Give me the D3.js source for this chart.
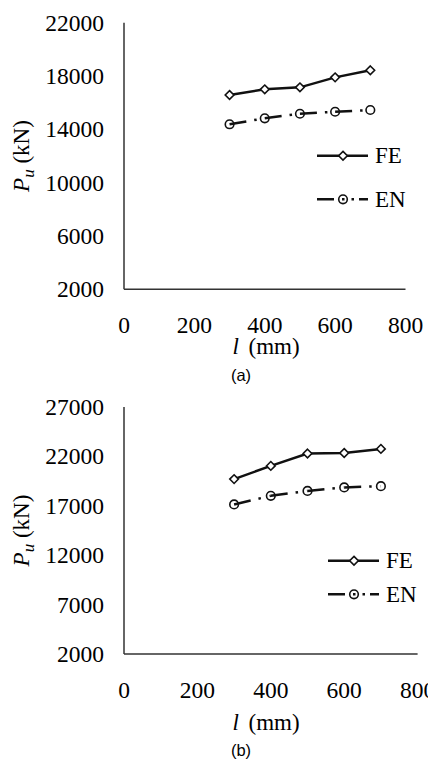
<!DOCTYPE html>
<html>
<head>
<meta charset="utf-8">
<script src="https://cdn.jsdelivr.net/npm/d3@7"></script>
<style>
  body { margin: 0; background: #fff; }
  svg text { font-family: "Liberation Serif", "Times New Roman", serif; fill: #000; }
</style>
</head>
<body>
<div id="chart"></div>
<script>
// chart data
const lengths = [300, 400, 500, 600, 700];
const feA = [16580, 17000, 17150, 17900, 18430];
const enA = [14380, 14830, 15170, 15320, 15450];
const feB = [19700, 21040, 22290, 22350, 22760];
const enB = [17140, 18010, 18510, 18860, 18990];
const xTicks = [0, 200, 400, 600, 800];
const yTicksA = [2000, 6000, 10000, 14000, 18000, 22000];
const yTicksB = [2000, 7000, 12000, 17000, 22000, 27000];
const seriesNames = ["FE", "EN"];

const svg = d3.select('#chart')
  .append('svg')
  .attr('width', 428)
  .attr('height', 760);

const panels = [
  { fe: feA, en: enA, ticks: yTicksA, label: "(a)",
    left: 124, right: 405.5, top: 22.7, bottom: 289.3,
    xLab: 333, xTitle: 354, sub: 381, legX: 317, legY: [155.7, 199.3] },
  { fe: feB, en: enB, ticks: yTicksB, label: "(b)",
    left: 124, right: 417.6, top: 407, bottom: 654,
    xLab: 698, xTitle: 730, sub: 756, legX: 328, legY: [560.7, 594.3] }
];

const diamond = d3.symbol().type(d3.symbolDiamond2).size(48);

panels.forEach(p => {
  const g = svg.append('g');

  const x = d3.scaleLinear().domain([0, 800]).range([p.left, p.right]);
  const y = d3.scaleLinear()
    .domain([d3.min(p.ticks), d3.max(p.ticks)])
    .range([p.bottom, p.top]);

  // axes lines
  g.append('line')
    .attr('x1', x(0)).attr('x2', x(0))
    .attr('y1', y.range()[1]).attr('y2', y.range()[0])
    .attr('stroke', '#333').attr('stroke-width', 1.5);
  g.append('line')
    .attr('x1', x(0)).attr('x2', x(800))
    .attr('y1', y.range()[0]).attr('y2', y.range()[0])
    .attr('stroke', '#333').attr('stroke-width', 1.5);

  // tick labels
  g.selectAll('.ytick')
    .data(p.ticks)
    .join('text')
      .attr('class', 'ytick')
      .attr('x', x(0) - 20)
      .attr('y', d => y(d) + 8)
      .attr('text-anchor', 'end')
      .attr('font-size', 23.5)
      .text(d => d);

  g.selectAll('.xtick')
    .data(xTicks)
    .join('text')
      .attr('class', 'xtick')
      .attr('x', d => x(d))
      .attr('y', p.xLab)
      .attr('text-anchor', 'middle')
      .attr('font-size', 23.5)
      .text(d => d);

  // axis titles
  const yt = g.append('text')
    .attr('transform', `translate(29,${(p.top + p.bottom) / 2}) rotate(-90)`)
    .attr('text-anchor', 'middle')
    .attr('font-size', 23);
  yt.append('tspan').attr('font-style', 'italic').text('P');
  yt.append('tspan').attr('font-style', 'italic').attr('font-size', 17).attr('dy', 5).text('u');
  yt.append('tspan').attr('dy', -5).text(' (kN)');

  const xt = g.append('text')
    .attr('x', 266)
    .attr('y', p.xTitle)
    .attr('text-anchor', 'middle')
    .attr('font-size', 23);
  xt.append('tspan').attr('font-style', 'italic').text('l');
  xt.append('tspan').attr('dx', 4).text(' (mm)');

  g.append('text')
    .attr('x', 241)
    .attr('y', p.sub)
    .attr('text-anchor', 'middle')
    .attr('font-size', 16.5)
    .style('font-family', '"Liberation Sans", Arial, sans-serif')
    .text(p.label);

  // FE series
  const fePts = lengths.map((l, i) => [x(l), y(p.fe[i])]);
  g.append('path')
    .attr('d', d3.line()(fePts))
    .attr('fill', 'none')
    .attr('stroke', '#111')
    .attr('stroke-width', 2.5);

  // EN series: dash-dot pattern restarts each segment
  const enPts = lengths.map((l, i) => [x(l), y(p.en[i])]);
  g.selectAll('.enseg')
    .data(d3.pairs(enPts))
    .join('line')
      .attr('class', 'enseg')
      .attr('x1', d => d[0][0]).attr('y1', d => d[0][1])
      .attr('x2', d => d[1][0]).attr('y2', d => d[1][1])
      .attr('stroke', '#111')
      .attr('stroke-width', 2.5)
      .attr('stroke-dasharray', '17,8,2.5,9');

  g.selectAll('.fem')
    .data(fePts)
    .join('path')
      .attr('class', 'fem')
      .attr('transform', d => `translate(${d[0]},${d[1]})`)
      .attr('d', diamond)
      .attr('fill', '#fff')
      .attr('stroke', '#111')
      .attr('stroke-width', 1.6);

  g.selectAll('.enm')
    .data(enPts)
    .join('circle')
      .attr('class', 'enm')
      .attr('cx', d => d[0]).attr('cy', d => d[1])
      .attr('r', 4.3)
      .attr('fill', 'none')
      .attr('stroke', '#111')
      .attr('stroke-width', 1.6);

  // legend
  const lg = g.append('g');
  const lx0 = p.legX, lx1 = p.legX + 51, mx = p.legX + 26;
  lg.append('line')
    .attr('x1', lx0).attr('x2', lx1)
    .attr('y1', p.legY[0]).attr('y2', p.legY[0])
    .attr('stroke', '#111').attr('stroke-width', 2.5);
  lg.append('path')
    .attr('transform', `translate(${mx},${p.legY[0]})`)
    .attr('d', diamond)
    .attr('fill', '#fff').attr('stroke', '#111').attr('stroke-width', 1.6);
  lg.append('line')
    .attr('x1', lx0).attr('x2', lx1)
    .attr('y1', p.legY[1]).attr('y2', p.legY[1])
    .attr('stroke', '#111').attr('stroke-width', 2.5)
    .attr('stroke-dasharray', '17,8,2.5,7,2.5,5,10');
  lg.append('circle')
    .attr('cx', mx).attr('cy', p.legY[1]).attr('r', 4.3)
    .attr('fill', 'none').attr('stroke', '#111').attr('stroke-width', 1.6);
  lg.selectAll('text')
    .data(seriesNames)
    .join('text')
      .attr('x', lx1 + 7)
      .attr('y', (d, i) => p.legY[i] + 7.5)
      .attr('font-size', 23)
      .text(d => d);
});
</script>
</body>
</html>
